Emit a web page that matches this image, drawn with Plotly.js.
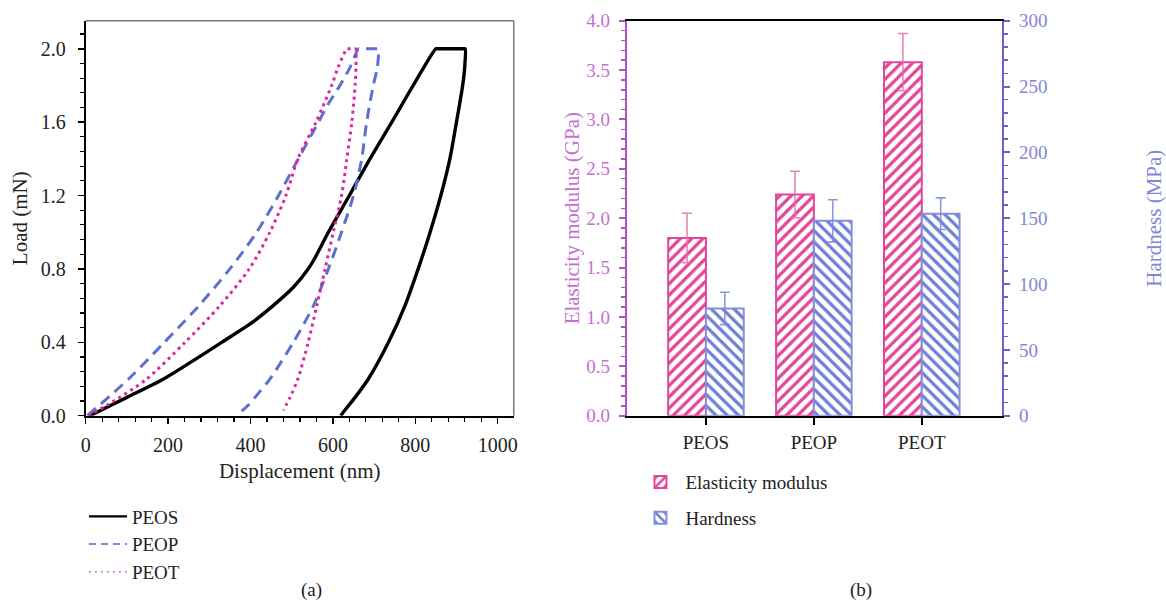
<!DOCTYPE html>
<html>
<head>
<meta charset="utf-8">
<script src="https://cdn.plot.ly/plotly-3.0.1.min.js"></script>
<style>html,body{margin:0;padding:0;background:#fff;}#chart{width:1166px;height:603px;}</style>
</head>
<body>
<div id="chart"></div>
<script>
// ---- Panel (a): load–displacement curves ----
const peosX = [10, 100, 189, 261, 330, 399, 455, 504, 540, 554, 589, 640, 690, 743, 795, 850, 853, 918, 921, 920, 915, 900, 884, 862, 836, 807, 775, 735, 686, 654, 629, 619];
const peosY = [0, 0.1, 0.2, 0.3, 0.4, 0.5, 0.6, 0.7, 0.8, 0.85, 1.0, 1.2, 1.4, 1.6, 1.8, 2.0, 2.0, 2.0, 2.0, 1.9, 1.8, 1.6, 1.4, 1.2, 1.0, 0.8, 0.6, 0.4, 0.2, 0.1, 0.03, 0];
const peopX = [4, 104, 191, 275, 350, 415, 468, 516, 565, 589, 617, 642, 662, 665, 707, 710, 708, 698, 682, 670, 650, 621, 589, 553, 504, 447, 411, 391, 371];
const peopY = [0, 0.2, 0.4, 0.6, 0.8, 1.0, 1.2, 1.4, 1.6, 1.7, 1.8, 1.9, 2.0, 2.0, 2.0, 2.0, 1.9, 1.8, 1.6, 1.4, 1.2, 1.0, 0.8, 0.6, 0.4, 0.2, 0.1, 0.05, 0.01];
const peotX = [6, 59, 148, 241, 326, 397, 447, 486, 515, 559, 597, 613, 634, 637, 652, 655, 656, 654, 646, 634, 621, 601, 581, 561, 540, 515, 496, 480];
const peotY = [0, 0.067, 0.2, 0.4, 0.6, 0.8, 1.0, 1.2, 1.4, 1.6, 1.8, 1.9, 2.0, 2.0, 2.0, 2.0, 1.9, 1.8, 1.6, 1.4, 1.2, 1.0, 0.8, 0.6, 0.4, 0.2, 0.1, 0.03];
const curveNames = ['PEOS', 'PEOP', 'PEOT'];

// ---- Panel (b): bar chart ----
const samples = ['PEOS', 'PEOP', 'PEOT'];
const samplePos = [0, 1, 2];
const modulus = [1.80, 2.24, 3.58];
const modulusErr = [0.25, 0.235, 0.29];
const hardness = [81.5, 148, 153.4];
const hardnessErr = [12.3, 16, 12];
const barNames = ['Elasticity modulus', 'Hardness'];

const serif = "'Liberation Serif', 'Times New Roman', serif";
const pink = '#e0479a';
const blue = '#6f7fd6';
const curveColors = ['#000000', '#5f6fd0', '#e0259c'];
const legendColors = ['#000000', '#5a5ad8', '#d070e0'];
const curveDash = ['solid', '11px,7px', '3px,4px'];
const legendDash = ['solid', '7px,5px', '2px,4px'];
const curveX = [peosX, peopX, peotX];
const curveY = [peosY, peopY, peotY];

const traces = [];
for (let i = 0; i < 3; i++) {
  traces.push({x: curveX[i], y: curveY[i], name: curveNames[i], type: 'scatter', mode: 'lines', showlegend: false,
    line: {color: curveColors[i], width: i === 0 ? 3.4 : 3, dash: curveDash[i], shape: 'spline', smoothing: 0.8},
    xaxis: 'x', yaxis: 'y'});
}
// legend entries (thin lines, as in the figure legend)
for (let i = 0; i < 3; i++) {
  traces.push({x: [null], y: [null], name: curveNames[i], type: 'scatter', mode: 'lines',
    line: {color: legendColors[i], width: i === 0 ? 2.2 : 1.6, dash: legendDash[i]},
    xaxis: 'x', yaxis: 'y', legend: 'legend'});
}
traces.push(
  {x: samplePos, y: modulus, name: barNames[0], type: 'bar', xaxis: 'x2', yaxis: 'y2', legend: 'legend2', legendgroup: 'm',
   width: 0.35, offset: -0.35,
   marker: {color: 'white', line: {color: pink, width: 2}, pattern: {shape: '/', fgcolor: pink, bgcolor: 'white', size: 8, solidity: 0.4, fillmode: 'replace'}},
   error_y: {type: 'data', array: modulusErr, visible: true, color: 'rgba(230,110,175,0.85)', thickness: 1.6, width: 5}},
  {x: samplePos, y: hardness, name: barNames[1], type: 'bar', xaxis: 'x2', yaxis: 'y3', legend: 'legend2', legendgroup: 'h',
   width: 0.35, offset: 0,
   marker: {color: 'white', line: {color: '#8090dc', width: 2}, pattern: {shape: '\\', fgcolor: blue, bgcolor: 'white', size: 8, solidity: 0.4, fillmode: 'replace'}},
   error_y: {type: 'data', array: hardnessErr, visible: true, color: 'rgba(120,135,215,0.85)', thickness: 1.6, width: 5}}
);

const tickFontA = {family: serif, size: 20, color: '#222'};
const tickFontB = {family: serif, size: 19, color: '#222'};
const layout = {
  width: 1166, height: 603,
  margin: {l: 0, r: 0, t: 0, b: 0},
  paper_bgcolor: 'white', plot_bgcolor: 'white',
  font: {family: serif, size: 20, color: '#222'},
  showlegend: true,
  barmode: 'overlay',
  xaxis: {
    domain: [0.0735, 0.4406], anchor: 'y', range: [0, 1039],
    tickvals: [0, 200, 400, 600, 800, 1000], ticks: 'outside', ticklen: 6, tickwidth: 1.5, tickcolor: '#000',
    minor: {dtick: 40, tick0: 0, ticks: 'outside', ticklen: 4, tickcolor: '#000', tickwidth: 1.2},
    showline: true, linecolor: '#000', linewidth: 2, showgrid: false, zeroline: false,
    tickfont: tickFontA, ticklabelstandoff: 4,
    title: {text: 'Displacement (nm)', font: {family: serif, size: 21, color: '#222'}, standoff: 9}
  },
  yaxis: {
    domain: [0.3106, 0.9657], anchor: 'x', range: [0, 2.153],
    tickvals: [0, 0.4, 0.8, 1.2, 1.6, 2.0], ticktext: ['0.0', '0.4', '0.8', '1.2', '1.6', '2.0'],
    ticks: 'outside', ticklen: 6, tickwidth: 1.5, tickcolor: '#000',
    minor: {dtick: 0.08, tick0: 0, ticks: 'outside', ticklen: 4, tickcolor: '#000', tickwidth: 1.2},
    showline: true, linecolor: '#000', linewidth: 2, showgrid: false, zeroline: false,
    tickfont: tickFontA, ticklabelstandoff: 8,
    title: {text: 'Load (mN)', font: {family: serif, size: 21, color: '#222'}, standoff: 7}
  },
  xaxis2: {
    domain: [0.5375, 0.8596], anchor: 'y2', range: [-0.734, 2.746],
    tickvals: samplePos, ticktext: samples, ticks: 'outside', ticklen: 7, tickwidth: 2, tickcolor: '#000',
    showline: true, linecolor: '#000', linewidth: 2, mirror: true, showgrid: false, zeroline: false,
    tickfont: tickFontB, ticklabelstandoff: 1
  },
  yaxis2: {
    domain: [0.3106, 0.9657], anchor: 'x2', range: [0, 4],
    tickvals: [0, 0.5, 1, 1.5, 2, 2.5, 3, 3.5, 4], ticktext: ['0.0', '0.5', '1.0', '1.5', '2.0', '2.5', '3.0', '3.5', '4.0'],
    ticks: 'outside', ticklen: 6, tickwidth: 2, tickcolor: '#b24fc2',
    minor: {dtick: 0.1, tick0: 0, ticks: 'outside', ticklen: 4, tickcolor: '#b24fc2', tickwidth: 1.5},
    showline: true, linecolor: '#b24fc2', linewidth: 2, showgrid: false, zeroline: false,
    tickfont: {family: serif, size: 19, color: '#c56fd2'}, ticklabelstandoff: 5,
    title: {text: 'Elasticity modulus (GPa)', font: {family: serif, size: 21, color: '#c56fd2'}, standoff: 1}
  },
  yaxis3: {
    domain: [0.3106, 0.9657], anchor: 'x2', overlaying: 'y2', side: 'right', range: [0, 300],
    tickvals: [0, 50, 100, 150, 200, 250, 300],
    ticks: 'outside', ticklen: 6, tickwidth: 2, tickcolor: '#6f5fc8',
    minor: {dtick: 10, tick0: 0, ticks: 'outside', ticklen: 4, tickcolor: '#6f5fc8', tickwidth: 1.5},
    showline: true, linecolor: '#6f5fc8', linewidth: 2, showgrid: false, zeroline: false,
    tickfont: {family: serif, size: 19, color: '#8585d8'}, ticklabelstandoff: 5,
    title: {text: 'Hardness (MPa)', font: {family: serif, size: 21, color: '#8585d8'}, standoff: 105}
  },
  legend: {
    x: 0.072, y: 0.175, xanchor: 'left', yanchor: 'top', bgcolor: 'rgba(0,0,0,0)',
    font: {family: serif, size: 19, color: '#222'}, itemwidth: 38, tracegroupgap: 0
  },
  legend2: {
    x: 0.545, y: 0.232, xanchor: 'left', yanchor: 'top', bgcolor: 'rgba(0,0,0,0)',
    font: {family: serif, size: 19, color: '#222'}, itemwidth: 40, tracegroupgap: 8, traceorder: 'grouped'
  },
  shapes: [
    {type: 'line', xref: 'x domain', yref: 'y domain', x0: 0, x1: 1, y0: 1, y1: 1, line: {color: '#777', width: 1.5}},
    {type: 'line', xref: 'x domain', yref: 'y domain', x0: 1, x1: 1, y0: 0, y1: 1, line: {color: '#777', width: 1.5}}
  ],
  annotations: [
    {text: '(a)', xref: 'paper', yref: 'paper', x: 0.267, y: 0.021, xanchor: 'center', yanchor: 'middle', showarrow: false, font: {family: serif, size: 19, color: '#222'}},
    {text: '(b)', xref: 'paper', yref: 'paper', x: 0.738, y: 0.021, xanchor: 'center', yanchor: 'middle', showarrow: false, font: {family: serif, size: 19, color: '#222'}}
  ]
};

Plotly.newPlot('chart', traces, layout, {displayModeBar: false, staticPlot: true});
</script>
</body>
</html>
